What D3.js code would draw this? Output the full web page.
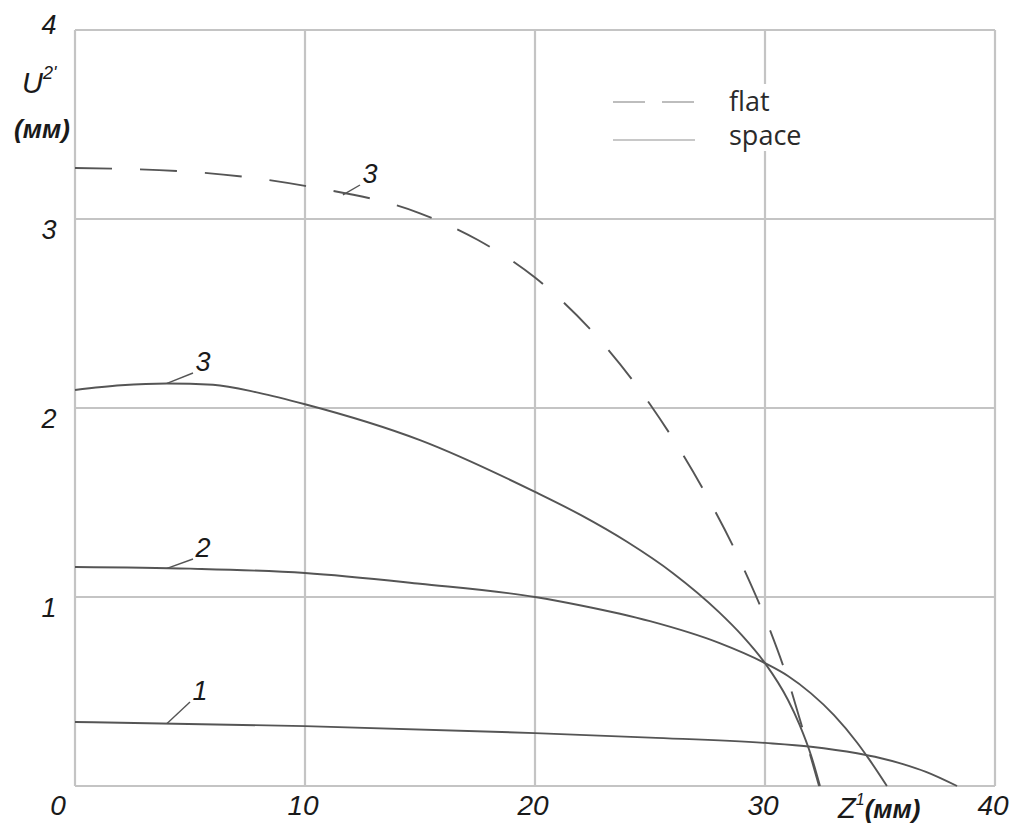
<!DOCTYPE html>
<html>
<head>
<meta charset="utf-8">
<script src="https://cdn.jsdelivr.net/npm/d3@7"></script>
<style>
  html, body { margin: 0; padding: 0; background: #fff; }
  svg { display: block; }
  .tick-label { font-family: "Liberation Sans", Arial, sans-serif; font-style: italic; fill: #1a1a1a; }
  .legend-text { font-family: "Open Sans", "Noto Sans", sans-serif; fill: #2a2a2a; }
</style>
</head>
<body>
<svg id="chart" width="1022" height="828"></svg>
<script>
// Axis ticks
const xTicks = [0, 10, 20, 30, 40];
const yTicks = [0, 1, 2, 3, 4];

// Curve 1 (space)
const curve1 = [
  [0, 0.339], [10, 0.317], [20, 0.28], [25, 0.256], [30, 0.228], [32, 0.208],
  [34, 0.173], [35, 0.148], [36, 0.116], [37, 0.075], [38.35, 0]
];
// Curve 2 (space)
const curve2 = [
  [0, 1.159], [5, 1.15], [10, 1.127], [15, 1.07], [20, 1.0], [22, 0.955],
  [25, 0.872], [28, 0.757], [30, 0.65], [31, 0.582], [32, 0.49],
  [33, 0.375], [34, 0.23], [34.5, 0.146], [35.3, 0]
];
// Curve 3 (space)
const curve3 = [
  [0, 2.095], [2, 2.12], [4, 2.13], [6, 2.123], [8, 2.08], [10, 2.02], [15, 1.83],
  [20, 1.556], [22, 1.433], [24, 1.292], [26, 1.126], [28, 0.92],
  [29, 0.797], [30, 0.65], [31, 0.455], [31.5, 0.325], [32, 0.163], [32.39, 0]
];
// Curve 3 (flat)
const curve3flat = [
  [0, 3.27], [5, 3.25], [10, 3.175], [15, 3.03], [17.5, 2.89], [20, 2.69],
  [22.6, 2.39], [25, 2.02], [27.4, 1.55], [29, 1.17], [30.2, 0.83],
  [31, 0.56], [31.57, 0.33], [32.35, 0]
];

const legendItems = ["flat", "space"];

const svg = d3.select("#chart");
const plotLeft = 75, plotRight = 995, plotTop = 30, plotBottom = 786;

const x = d3.scaleLinear().domain([0, 40]).range([plotLeft, plotRight]);
const y = d3.scaleLinear().domain([0, 4]).range([plotBottom, plotTop]);

const gridColor = "#c4c4c4";
const curveColor = "#555555";

// Grid lines and frame
const grid = svg.append("g");
grid.selectAll("line.v").data(xTicks).join("line")
  .attr("class", "v")
  .attr("x1", d => x(d)).attr("x2", d => x(d))
  .attr("y1", y(4)).attr("y2", y(0))
  .attr("stroke", gridColor).attr("stroke-width", 2.2);
grid.selectAll("line.h").data(yTicks).join("line")
  .attr("class", "h")
  .attr("x1", x(0)).attr("x2", x(40))
  .attr("y1", d => y(d)).attr("y2", d => y(d))
  .attr("stroke", gridColor).attr("stroke-width", 2.2);

// Tick labels
svg.append("g").selectAll("text").data(xTicks.filter(d => d > 0)).join("text")
  .attr("class", "tick-label")
  .attr("x", d => x(d) - 2).attr("y", 815)
  .attr("text-anchor", "middle")
  .attr("font-size", 28)
  .text(d => d);
svg.append("text").attr("class", "tick-label")
  .attr("x", 58).attr("y", 815).attr("text-anchor", "middle")
  .attr("font-size", 28).text("0");
svg.append("g").selectAll("text").data(yTicks.filter(d => d > 0)).join("text")
  .attr("class", "tick-label")
  .attr("x", 49).attr("y", d => y(d) + (d === 4 ? 4 : 20))
  .attr("text-anchor", "middle")
  .attr("font-size", 27)
  .text(d => d);

// Axis titles
const uTitle = svg.append("text").attr("class", "tick-label")
  .attr("x", 22).attr("y", 93).attr("font-size", 29);
uTitle.append("tspan").text("U");
uTitle.append("tspan").attr("dy", -14).attr("font-size", 18).text("2'");
svg.append("text").attr("class", "tick-label")
  .attr("x", 42).attr("y", 138).attr("text-anchor", "middle")
  .attr("font-size", 26).attr("font-weight", "bold").text("(мм)");

const zTitle = svg.append("text").attr("class", "tick-label")
  .attr("x", 838).attr("y", 818).attr("font-size", 29);
zTitle.append("tspan").text("Z");
zTitle.append("tspan").attr("dy", -13).attr("font-size", 16).text("1");
zTitle.append("tspan").attr("dy", 13).attr("font-size", 26).attr("font-weight", "bold").text("(мм)");

// Curves
const line = d3.line()
  .x(d => x(d[0])).y(d => y(d[1]))
  .curve(d3.curveMonotoneX);

const curves = svg.append("g").attr("fill", "none").attr("stroke", curveColor).attr("stroke-width", 1.9);
[curve1, curve2, curve3].forEach(c => curves.append("path").attr("d", line(c)));
curves.append("path").attr("d", line(curve3flat))
  .attr("stroke-dasharray", "37 28");

// Curve number labels with leader lines to a point on each curve
const labelPos = [
  {text: "1", at: 4, lx: 200, ly: 700},
  {text: "2", at: 4, lx: 203, ly: 557},
  {text: "3", at: 4, lx: 203, ly: 371},
  {text: "3", at: 11.65, lx: 370, ly: 183}
];
const labelCurves = [curve1, curve2, curve3, curve3flat];
labelPos.forEach((p, i) => {
  const c = labelCurves[i];
  const xi = d3.bisector(d => d[0]).left(c, p.at);
  const a = c[Math.max(0, xi - 1)], b = c[xi];
  const t = b[0] === a[0] ? 0 : (p.at - a[0]) / (b[0] - a[0]);
  const v = a[1] + t * (b[1] - a[1]);
  const ex = x(p.at), ey = y(v);
  svg.append("line")
    .attr("x1", ex).attr("y1", ey)
    .attr("x2", p.lx - 10).attr("y2", p.ly + 2)
    .attr("stroke", curveColor).attr("stroke-width", 1.4);
  svg.append("text").attr("class", "tick-label")
    .attr("x", p.lx).attr("y", p.ly)
    .attr("text-anchor", "middle")
    .attr("font-size", 27).text(p.text);
});

// Legend
const legend = svg.append("g");
legend.append("rect").attr("x", 718).attr("y", 84).attr("width", 110).attr("height", 67).attr("fill", "#fff");
legend.append("line").attr("x1", 613).attr("x2", 695).attr("y1", 102).attr("y2", 102)
  .attr("stroke", "#bdbdbd").attr("stroke-width", 2).attr("stroke-dasharray", "32 17");
legend.append("line").attr("x1", 613).attr("x2", 695).attr("y1", 140).attr("y2", 140)
  .attr("stroke", "#c8c8c8").attr("stroke-width", 2);
legend.selectAll("text.lg").data(legendItems).join("text")
  .attr("class", "legend-text")
  .attr("x", 729).attr("y", (d, i) => 111 + i * 34)
  .attr("font-size", 27)
  .text(d => d);
</script>
</body>
</html>
